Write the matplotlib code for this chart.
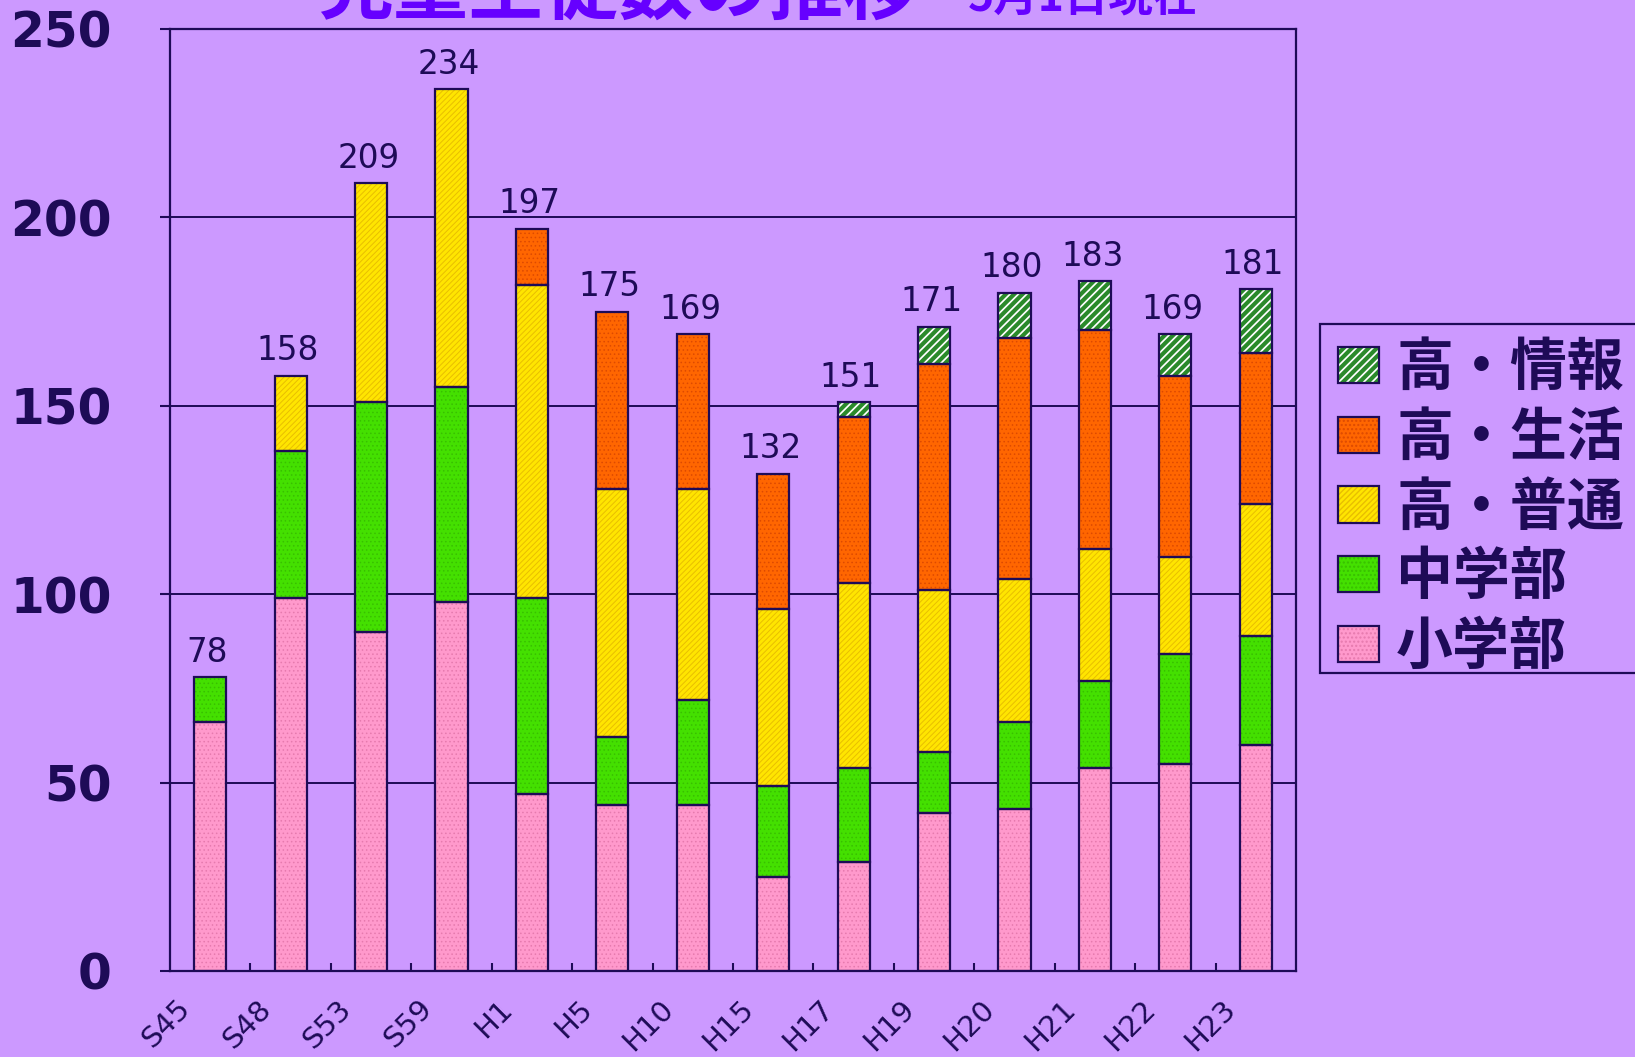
import matplotlib
matplotlib.use('Agg')
import matplotlib.pyplot as plt
import matplotlib as mpl
import numpy as np
from matplotlib.patches import Patch, Rectangle
from matplotlib.transforms import ScaledTranslation

categories = ['S45', 'S48', 'S53', 'S59', 'H1', 'H5', 'H10', 'H15', 'H17',
              'H19', 'H20', 'H21', 'H22', 'H23']
elementary = [66, 99, 90, 98, 47, 44, 44, 25, 29, 42, 43, 54, 55, 60]
junior = [12, 39, 61, 57, 52, 18, 28, 24, 25, 16, 23, 23, 29, 29]
hs_general = [0, 20, 58, 79, 83, 66, 56, 47, 49, 43, 38, 35, 26, 35]
hs_life = [0, 0, 0, 0, 15, 47, 41, 36, 44, 60, 64, 58, 48, 40]
hs_info = [0, 0, 0, 0, 0, 0, 0, 0, 4, 10, 12, 13, 11, 17]
totals = [78, 158, 209, 234, 197, 175, 169, 132, 151, 171, 180, 183, 169, 181]
series_names = ['小学部', '中学部', '高・普通', '高・生活', '高・情報']
title = '児童生徒数の推移'
subtitle = '5月1日現在'
yticks = [0, 50, 100, 150, 200, 250]

BG = '#CC99FF'
NAVY = '#1E0B57'
CJK = ['Noto Sans CJK JP', 'DejaVu Sans']

styles = [
    dict(face='#FF99CC', hatch='....', hc='#E67AAE', lw=0.6),
    dict(face='#44E000', hatch='....', hc='#38C000', lw=0.6),
    dict(face='#FFE500', hatch='//////', hc='#E8BE00', lw=0.7),
    dict(face='#FF6600', hatch='....', hc='#DD4A00', lw=0.6),
    dict(face='#FFFFFF', hatch='////', hc='#2A8A2A', lw=3.0),
]
series = [elementary, junior, hs_general, hs_life, hs_info]

fig = plt.figure(figsize=(16.35, 10.57), dpi=100, facecolor=BG)
ax = fig.add_axes([170/1635, 1 - 971/1057, (1296-170)/1635, (971-29)/1057])
ax.set_facecolor(BG)

x = np.arange(len(categories))
bottom = np.zeros(len(categories))
handles = []
for vals, st, name in zip(series, styles, series_names):
    v = np.array(vals, dtype=float)
    m = v > 0
    with mpl.rc_context({'hatch.linewidth': st['lw']}):
        ax.bar(x[m], v[m], bottom=bottom[m], width=0.4, color=st['face'],
               edgecolor=st['hc'], hatch=st['hatch'], linewidth=0, zorder=2)
        ph = Patch(facecolor=st['face'], edgecolor=st['hc'], hatch=st['hatch'], linewidth=0)
    ax.bar(x[m], v[m], bottom=bottom[m], width=0.4, fill=False,
           edgecolor=NAVY, linewidth=1.6, zorder=3)
    pe = Patch(facecolor='none', edgecolor=NAVY, linewidth=1.6)
    handles.append(((ph, pe), name))
    bottom += v

for xi, t in zip(x, totals):
    ax.annotate(str(t), (xi, t), xytext=(-2, 11), textcoords='offset points',
                ha='center', va='baseline', fontsize=23.5, color=NAVY,
                family='DejaVu Sans')

ax.set_xlim(-0.5, len(categories) - 0.5)
ax.set_ylim(0, 250)
ax.set_yticks(yticks)
ax.set_yticklabels([str(v) for v in yticks], fontsize=35, fontweight='bold',
                   color=NAVY, family='DejaVu Sans')
ax.tick_params(axis='y', direction='out', length=7, width=1.5, color=NAVY, pad=35)
ax.yaxis.grid(True, color=NAVY, linewidth=1.4)
ax.set_axisbelow(True)

ax.set_xticks(x)
ax.set_xticklabels(categories, rotation=45, ha='right', va='top',
                   rotation_mode='anchor', fontsize=21, color=NAVY,
                   family='DejaVu Sans')
ax.tick_params(axis='x', which='major', length=0, pad=17)
ax.set_xticks(np.arange(0.5, len(categories) - 1, 1), minor=True)
ax.tick_params(axis='x', which='minor', direction='in', length=6, width=1.5, color=NAVY)
off = ScaledTranslation(-34/100, 0, fig.dpi_scale_trans)
for lab in ax.get_xticklabels():
    lab.set_transform(lab.get_transform() + off)

for s in ax.spines.values():
    s.set_color(NAVY)
    s.set_linewidth(1.6)

# legend frame drawn separately (extends past the right edge like the reference)
fig.patches.append(Rectangle((1320/1635, 1 - 673/1057), 400/1635, 349/1057,
                             transform=fig.transFigure, facecolor=BG,
                             edgecolor=NAVY, linewidth=1.6, zorder=0))
leg = fig.legend([h for h, _ in handles[::-1]], [n for _, n in handles[::-1]],
                 loc='upper left', bbox_to_anchor=(1338/1635, 1 - 339/1057),
                 prop={'family': CJK, 'size': 41, 'weight': 'bold'},
                 frameon=False, handlelength=0.72, handleheight=0.6,
                 handletextpad=0.3, labelspacing=0.207, borderpad=0,
                 borderaxespad=0)
for t in leg.get_texts():
    t.set_color(NAVY)
for p in leg.findobj(Rectangle):
    if p.get_hatch() == '////':
        if hasattr(p, 'set_hatch_linewidth'):
            p.set_hatch_linewidth(3.0)
        else:
            p._hatch_linewidth = 3.0

fig.text(318/1635, 1 - 14/1057, title, fontsize=54, fontweight='bold',
         color='#6600FF', family=CJK, ha='left', va='baseline')
fig.text(968/1635, 1 - 11/1057, subtitle, fontsize=32, fontweight='bold',
         color='#6600FF', family=CJK, ha='left', va='baseline')

fig.savefig('out.png', dpi=100, facecolor=BG)
